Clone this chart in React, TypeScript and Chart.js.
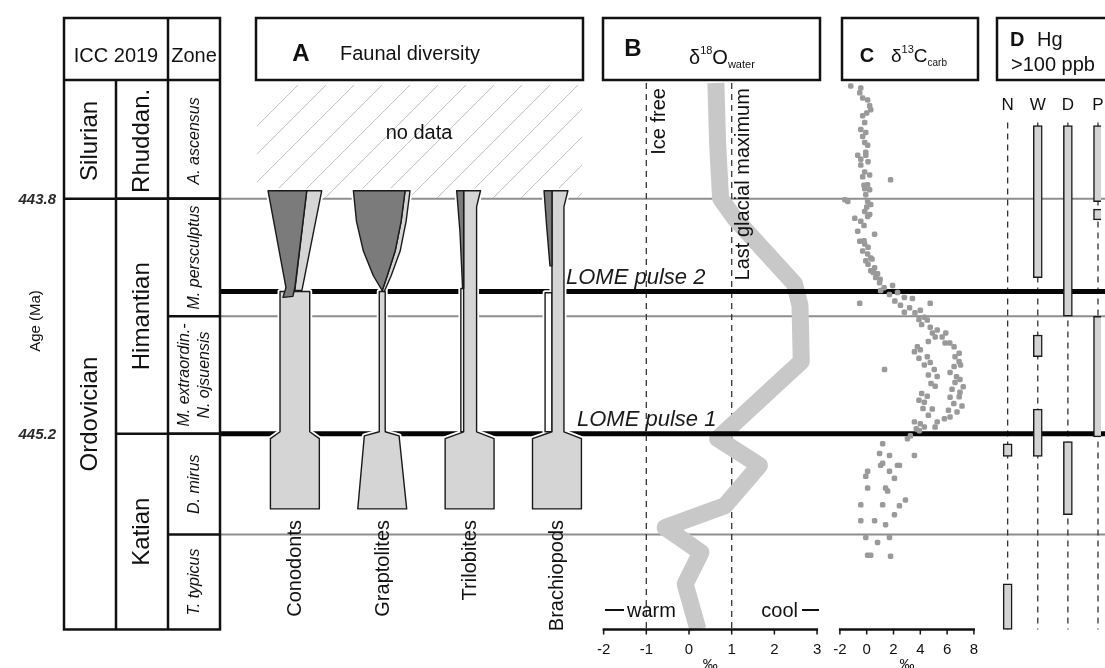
import React, { useEffect, useRef } from 'react';
import { Chart, registerables } from 'chart.js';

Chart.register(...registerables);

const W = 1105;
const H = 668;
const FONT = '"Liberation Sans", Arial, sans-serif';

// ---- Stratigraphic framework (ages in Ma) ----
const systemNames = ['Silurian', 'Ordovician'];
const systemBounds = [443.112, 443.8, 446.365];
const stageNames = ['Rhuddan.', 'Himantian', 'Katian'];
const stageBounds = [443.112, 443.8, 445.2, 446.365];
const zoneNames = [['A. ascensus'], ['M. persculptus'], ['M. extraordin.-', 'N. ojsuensis'], ['D. mirus'], ['T. typicus']];
const zoneBounds = [443.112, 443.8, 444.5, 445.2, 445.8, 446.365];
const ageLabels = [443.8, 445.2];
const pulseNames = ['LOME pulse 2', 'LOME pulse 1'];
const pulseAges = [444.353, 445.2];

// ---- A: faunal diversity spindles, [offset from taxon axis, age] ----
const taxonNames = ['Conodonts', 'Graptolites', 'Trilobites', 'Brachiopods'];
const taxonAxis = [0, 10, 20, 30];
const conodontShape = [
  { kind: 'range', pts: [[-1.7, 444.353], [-1.7, 445.188], [-2.8, 445.229], [-2.8, 445.647], [2.8, 445.647], [2.8, 445.229], [1.7, 445.188], [1.7, 444.353]] },
  { kind: 'range', pts: [[1.36, 443.753], [3.07, 443.753], [0.8, 444.347], [0.0, 444.347]] },
  { kind: 'lost', pts: [[-3.07, 443.753], [1.36, 443.753], [0.0, 444.329], [-0.23, 444.382], [-1.36, 444.388], [-1.02, 444.329]] },
];
const graptoliteShape = [
  { kind: 'range', pts: [[-0.34, 444.353], [-0.34, 445.188], [-2.05, 445.212], [-2.8, 445.647], [2.8, 445.647], [1.93, 445.212], [0.34, 445.188], [0.34, 444.353]] },
  { kind: 'range', pts: [[2.61, 443.753], [3.18, 443.753], [2.73, 443.935], [2.05, 444.112], [1.02, 444.259], [0.23, 444.353], [0.0, 444.347], [0.57, 444.259], [1.48, 444.112], [2.16, 443.935]] },
  { kind: 'lost', pts: [[-3.3, 443.753], [2.61, 443.753], [2.16, 443.935], [1.48, 444.112], [0.57, 444.259], [0.0, 444.347], [-1.02, 444.259], [-2.16, 444.112], [-2.95, 443.935]] },
];
const trilobiteShape = [
  { kind: 'gap', pts: [[-1.0, 444.335], [-1.0, 445.188], [-0.68, 445.188], [-0.68, 444.335]] },
  { kind: 'range', pts: [[-0.68, 443.753], [-0.68, 445.188], [-2.8, 445.229], [-2.8, 445.647], [2.8, 445.647], [2.8, 445.229], [0.8, 445.188], [0.8, 443.847], [1.25, 443.753]] },
  { kind: 'lost', pts: [[-1.48, 443.753], [-0.68, 443.753], [-0.68, 444.335], [-0.8, 444.335], [-1.1, 444.0]] },
];
const brachiopodShape = [
  { kind: 'gap', pts: [[-1.36, 444.36], [-1.36, 445.188], [-0.57, 445.188], [-0.57, 444.36]] },
  { kind: 'range', pts: [[-0.57, 443.753], [-0.57, 445.188], [-2.8, 445.229], [-2.8, 445.647], [2.8, 445.647], [2.8, 445.229], [0.8, 445.188], [0.8, 443.847], [1.25, 443.753]] },
  { kind: 'lost', pts: [[-1.48, 443.753], [-0.57, 443.753], [-0.57, 444.2], [-0.8, 444.2], [-1.2, 443.95]] },
];
const taxonShapes = [conodontShape, graptoliteShape, trilobiteShape, brachiopodShape];

// ---- B: δ18O of seawater (‰) ----
const d18oAge = [443.112, 443.47, 443.8, 443.917, 444.306, 444.435, 444.77, 445.229, 445.388, 445.629, 445.758, 445.906, 446.094, 446.365];
const d18oValue = [0.63, 0.67, 0.74, 1.07, 2.47, 2.6, 2.63, 0.67, 1.65, 0.84, -0.56, 0.28, -0.09, 0.21];
const d18oTicks = [-2, -1, 0, 1, 2, 3];
const d18oRefValues = [-1, 1];
const d18oRefNames = ['Ice free', 'Last glacial maximum'];

// ---- C: δ13C of carbonate (‰) ----
const d13cAge = [
  443.129, 443.141, 443.17, 443.212, 443.247, 443.27, 443.306, 443.347, 443.388, 443.406,
  443.465, 443.482, 443.523, 443.541, 443.565, 443.541, 443.6, 443.641, 443.659, 443.67,
  443.688, 443.717, 443.741, 443.747, 443.776, 443.806, 443.817, 443.817, 443.835, 443.876,
  443.894, 443.917, 443.935, 443.906, 444.012, 443.994, 444.053, 444.07, 444.112, 444.129,
  444.153, 444.17, 444.212, 444.229, 444.247, 444.27, 444.3, 444.347, 444.317, 444.359,
  444.388, 444.394, 444.423, 444.435, 444.423, 444.465, 444.476, 444.506, 444.523, 444.565,
  444.582, 444.623, 444.623, 444.659, 444.682, 444.682, 444.712, 444.741, 444.741, 444.77,
  444.776, 444.8, 444.817, 444.817, 444.835, 444.859, 444.876, 444.894, 444.917, 444.935,
  444.953, 444.976, 444.982, 445.012, 445.035, 445.053, 445.07, 445.1, 445.129, 445.129,
  445.159, 445.182, 445.212, 445.229, 445.259, 445.317, 445.329, 445.329, 445.388, 445.388,
  445.376, 445.388, 445.423, 445.423, 445.465, 445.453, 445.523, 445.523, 445.541, 445.594,
  445.623, 445.623, 445.629, 445.682, 445.717, 445.717, 445.741, 445.817, 445.847, 445.817,
  445.923, 445.923, 445.929,
  444.6, 444.65, 444.7, 444.75, 444.79, 444.85, 444.9, 444.96, 445.0, 445.05,
  445.09, 445.14, 445.17, 444.6, 444.66, 444.72, 444.79, 444.86, 444.92, 444.98,
  445.02, 445.06, 445.11, 445.16, 444.05, 444.09, 444.16, 444.19, 444.24, 444.28,
  444.33, 444.37, 444.41, 444.45, 444.48, 444.52, 444.55, 443.2, 443.29, 443.43,
  443.58, 443.72, 443.85, 443.96,
];
const d13cValue = [
  -1.19, -0.44, -0.52, 0.07, 0.22, 0.3, -0.3, -0.15, -0.44, -0.07,
  -0.15, 0.07, -0.07, -0.67, -0.44, -0.07, -0.44, -0.15, 0.22, -0.3,
  1.78, 0.07, -0.15, 0.22, -0.07, -1.63, -1.41, 0.07, 0.3, -0.15,
  0.22, -0.89, -0.44, 0.07, 0.59, -0.67, -0.52, -0.15, -0.3, 0.07,
  0.3, -0.07, 0.59, 0.3, 0.81, 0.67, 0.96, 1.04, 1.93, 2.3,
  2.81, 3.41, -0.52, 2.52, 4.74, 4.0, 2.81, 4.3, 4.52, 4.74,
  5.26, 5.63, 5.11, 5.85, 6.52, 3.78, 3.56, 4.52, 6.59, 6.89,
  4.74, 6.52, 1.33, 5.04, 6.22, 5.26, 6.96, 6.59, 5.11, 6.37,
  6.96, 4.52, 6.22, 4.3, 7.11, 4.89, 6.74, 6.22, 5.26, 3.56,
  4.3, 3.93, 3.26, 3.04, 1.19, 0.96, 1.7, 3.56, 1.04, 2.44,
  1.19, 2.3, 1.7, 0.07, 2.07, -0.07, 0.07, 1.41, 1.56, 2.89,
  -0.44, 1.19, 2.44, 2.07, -0.44, 0.59, 1.41, -0.07, 0.81, 1.7,
  0.07, 0.3, 1.78,
  4.9, 4.6, 4.0, 3.9, 4.3, 4.6, 4.8, 4.1, 3.9, 4.2,
  4.6, 4.0, 3.7, 5.9, 6.2, 6.9, 7.0, 6.7, 7.2, 6.9,
  6.5, 6.1, 5.8, 5.1, -0.2, 0.1, 0.4, 0.1, 0.5, 1.0,
  1.3, 1.7, 2.1, 3.2, 3.6, 3.9, 4.1, -0.3, 0.0, -0.3,
  0.1, -0.2, 0.0, -0.2,
];
const d13cTicks = [-2, 0, 2, 4, 6, 8];

// ---- D: Hg > 100 ppb intervals per section ----
const hgSites = ['N', 'W', 'D', 'P'];
const hgSite = [1, 1, 1, 2, 2, 3, 3, 3, 0, 0];
const hgTop = [443.365, 444.612, 445.053, 443.365, 445.247, 443.365, 443.862, 444.5, 445.259, 446.094];
const hgBase = [444.271, 444.741, 445.335, 444.5, 445.682, 443.818, 443.926, 445.218, 445.335, 446.365];
const hgTrackTop = 443.347;

type Ctx = CanvasRenderingContext2D;

function text(ctx: Ctx, s: string, x: number, y: number, size: number, o: any = {}) {
  ctx.save();
  ctx.font = `${o.style || 'normal'} ${o.weight || 'normal'} ${size}px ${FONT}`;
  ctx.fillStyle = o.color || '#111';
  ctx.textAlign = o.align || 'center';
  ctx.textBaseline = o.baseline || 'alphabetic';
  ctx.translate(x, y);
  if (o.rot) ctx.rotate(-Math.PI / 2);
  ctx.fillText(s, 0, 0);
  ctx.restore();
}

function hline(ctx: Ctx, x0: number, x1: number, y: number, w: number, c: string) {
  ctx.save();
  ctx.strokeStyle = c;
  ctx.lineWidth = w;
  ctx.beginPath();
  ctx.moveTo(x0, y);
  ctx.lineTo(x1, y);
  ctx.stroke();
  ctx.restore();
}

function vline(ctx: Ctx, x: number, y0: number, y1: number, w: number, c: string, dash: number[] = []) {
  ctx.save();
  ctx.strokeStyle = c;
  ctx.lineWidth = w;
  ctx.setLineDash(dash);
  ctx.beginPath();
  ctx.moveTo(x, y0);
  ctx.lineTo(x, y1);
  ctx.stroke();
  ctx.restore();
}

function box(ctx: Ctx, x0: number, y0: number, x1: number, y1: number) {
  ctx.save();
  ctx.strokeStyle = '#111';
  ctx.lineWidth = 2.5;
  ctx.strokeRect(x0, y0, x1 - x0, y1 - y0);
  ctx.restore();
}

// inline run of text pieces: [string, size, dy, weight]
function runs(ctx: Ctx, x: number, y: number, parts: any[][]) {
  let cx = x;
  for (const [s, size, dy, weight] of parts) {
    ctx.save();
    ctx.font = `normal ${weight || 'normal'} ${size}px ${FONT}`;
    ctx.fillStyle = '#111';
    ctx.textAlign = 'left';
    ctx.textBaseline = 'alphabetic';
    ctx.fillText(s, cx, y + dy);
    cx += ctx.measureText(s).width;
    ctx.restore();
  }
}

const FILLS: Record<string, string> = { range: '#d5d5d5', lost: '#7b7b7b', gap: '#ffffff' };

const TABLE = { left: 64, c1: 116, c2: 168, right: 220, top: 18, head: 80 };

const strataPlugin = {
  id: 'strata',
  beforeDatasetsDraw(chart: any) {
    const ctx: Ctx = chart.ctx;
    const y = chart.scales.y;
    const xB = chart.scales.xB;
    const xD = chart.scales.xD;
    const top = y.getPixelForValue(systemBounds[0]);
    const base = y.getPixelForValue(systemBounds[2]);

    // hatched "no data" interval in panel A
    ctx.save();
    ctx.beginPath();
    ctx.rect(257, top + 2, 325, y.getPixelForValue(443.8) - top - 3);
    ctx.clip();
    ctx.strokeStyle = '#bdbdbd';
    ctx.lineWidth = 1;
    for (let x0 = 180; x0 < 620; x0 += 28) {
      ctx.beginPath();
      ctx.moveTo(x0, top + 120);
      ctx.lineTo(x0 + 120, top);
      ctx.stroke();
    }
    ctx.restore();

    // zone boundaries across the panels
    [443.8, 444.5, 445.8].forEach((a) => hline(ctx, TABLE.right, W, y.getPixelForValue(a), 2, '#8e8e8e'));

    // reference lines in B
    d18oRefValues.forEach((v) => vline(ctx, xB.getPixelForValue(v), top, base, 1.3, '#333', [6, 5]));
    // section tracks in D
    hgSites.forEach((_, i) => vline(ctx, xD.getPixelForValue(i), y.getPixelForValue(hgTrackTop), base, 1.3, '#333', [6, 5]));
  },
  afterDatasetDraw(chart: any, args: any) {
    if (args.index !== 0) return;
    const ctx: Ctx = chart.ctx;
    const y = chart.scales.y;
    const xA = chart.scales.xA;
    pulseAges.forEach((a) => hline(ctx, TABLE.right, W, y.getPixelForValue(a), 5, '#050505'));

    const path = (i: number, pts: number[][]) => {
      ctx.beginPath();
      pts.forEach(([dx, a], k) => {
        const px = xA.getPixelForValue(taxonAxis[i] + dx);
        const py = y.getPixelForValue(a);
        if (k) ctx.lineTo(px, py);
        else ctx.moveTo(px, py);
      });
      ctx.closePath();
    };
    ctx.save();
    ctx.lineJoin = 'round';
    taxonShapes.forEach((shapes, i) =>
      shapes.forEach((s) => {
        path(i, s.pts);
        ctx.strokeStyle = '#fff';
        ctx.lineWidth = 5;
        ctx.stroke();
      })
    );
    taxonShapes.forEach((shapes, i) =>
      shapes.forEach((s) => {
        path(i, s.pts);
        ctx.fillStyle = FILLS[s.kind];
        ctx.fill();
        ctx.strokeStyle = '#1a1a1a';
        ctx.lineWidth = 1.4;
        ctx.stroke();
      })
    );
    ctx.restore();
  },
  afterDatasetsDraw(chart: any) {
    const ctx: Ctx = chart.ctx;
    const y = chart.scales.y;
    const xA = chart.scales.xA;
    const xB = chart.scales.xB;
    const xC = chart.scales.xC;
    const xD = chart.scales.xD;
    const T = TABLE;
    const top = y.getPixelForValue(systemBounds[0]);
    const base = y.getPixelForValue(systemBounds[2]);

    // ---- chronostratigraphic table ----
    box(ctx, T.left, T.top, T.right, base);
    hline(ctx, T.left, T.right, T.head, 2.5, '#111');
    vline(ctx, T.c1, T.head, base, 2.5, '#111');
    vline(ctx, T.c2, T.top, base, 2.5, '#111');
    systemBounds.slice(1, -1).forEach((a) => hline(ctx, T.left, T.right, y.getPixelForValue(a), 2.5, '#111'));
    stageBounds.slice(1, -1).forEach((a) => hline(ctx, T.c1, T.right, y.getPixelForValue(a), 2.5, '#111'));
    zoneBounds.slice(1, -1).forEach((a) => hline(ctx, T.c2, T.right, y.getPixelForValue(a), 2.5, '#111'));
    text(ctx, 'ICC 2019', (T.left + T.c2) / 2, 62, 20);
    text(ctx, 'Zone', (T.c2 + T.right) / 2, 62, 20);
    const mid = (b: number[], i: number) => (y.getPixelForValue(b[i]) + y.getPixelForValue(b[i + 1])) / 2;
    systemNames.forEach((s, i) => text(ctx, s, (T.left + T.c1) / 2, mid(systemBounds, i), 24, { rot: true, baseline: 'middle' }));
    stageNames.forEach((s, i) => text(ctx, s, (T.c1 + T.c2) / 2, mid(stageBounds, i), 24, { rot: true, baseline: 'middle' }));
    zoneNames.forEach((lines, i) => {
      const cx = (T.c2 + T.right) / 2 + 1;
      lines.forEach((s, k) => {
        const off = (k - (lines.length - 1) / 2) * 20;
        text(ctx, s, cx + off, mid(zoneBounds, i), 16, { rot: true, baseline: 'middle', style: 'italic' });
      });
    });
    ageLabels.forEach((a) => text(ctx, a.toFixed(1), 56, y.getPixelForValue(a) + 1, 15, { align: 'right', baseline: 'middle', style: 'italic', weight: 'bold', color: '#2a2a2a' }));
    text(ctx, 'Age (Ma)', 36, 321, 15, { rot: true, baseline: 'middle' });

    // ---- panel A ----
    box(ctx, 256, T.top, 583, T.head);
    text(ctx, 'A', 301, 61, 24, { weight: 'bold' });
    text(ctx, 'Faunal diversity', 340, 60, 20, { align: 'left' });
    text(ctx, 'no data', 419, 139, 20);
    taxonNames.forEach((s, i) => text(ctx, s, xA.getPixelForValue(taxonAxis[i]) + 1, 520, 20, { rot: true, align: 'right', baseline: 'middle' }));
    pulseNames.forEach((s, i) => text(ctx, s, i === 0 ? 566 : 577, y.getPixelForValue(pulseAges[i]) - 8, 22, { align: 'left', style: 'italic', color: '#1a1a1a' }));

    // ---- panel B ----
    box(ctx, 603, T.top, 820, T.head);
    text(ctx, 'B', 633, 56, 24, { weight: 'bold' });
    runs(ctx, 689, 64, [['δ', 20, 0], ['18', 11, -10], ['O', 20, 0], ['water', 11, 4]]);
    text(ctx, d18oRefNames[0], xB.getPixelForValue(d18oRefValues[0]) + 13, top + 5, 20, { rot: true, align: 'right', baseline: 'middle' });
    text(ctx, d18oRefNames[1], xB.getPixelForValue(d18oRefValues[1]) + 12, top + 5, 20, { rot: true, align: 'right', baseline: 'middle' });
    const axisY = base;
    const drawAxis = (sc: any, ticks: number[], unitX: number) => {
      hline(ctx, sc.getPixelForValue(ticks[0]) - 1, sc.getPixelForValue(ticks[ticks.length - 1]) + 1, axisY, 2.5, '#111');
      ticks.forEach((t) => {
        const px = sc.getPixelForValue(t);
        vline(ctx, px, axisY, axisY + 5, 1.5, '#111');
        text(ctx, String(t), px, axisY + 25, 15);
      });
      text(ctx, '‰', unitX, axisY + 40, 15);
    };
    drawAxis(xB, d18oTicks, (xB.getPixelForValue(-2) + xB.getPixelForValue(3)) / 2);
    hline(ctx, 605, 624, 610, 2, '#111');
    text(ctx, 'warm', 627, 617, 20, { align: 'left' });
    text(ctx, 'cool', 798, 617, 20, { align: 'right' });
    hline(ctx, 802, 819, 610, 2, '#111');

    // ---- panel C ----
    box(ctx, 842, T.top, 978, T.head);
    text(ctx, 'C', 867, 62, 20, { weight: 'bold' });
    runs(ctx, 891, 62, [['δ', 19, 0], ['13', 11, -9], ['C', 19, 0], ['carb', 10, 4]]);
    drawAxis(xC, d13cTicks, (xC.getPixelForValue(-2) + xC.getPixelForValue(8)) / 2);

    // ---- panel D ----
    box(ctx, 997, T.top, W + 20, T.head);
    text(ctx, 'D', 1010, 46, 20, { weight: 'bold', align: 'left' });
    text(ctx, 'Hg', 1037, 46, 20, { align: 'left' });
    text(ctx, '>100 ppb', 1011, 71, 20, { align: 'left' });
    hgSites.forEach((s, i) => text(ctx, s, xD.getPixelForValue(i), 110, 17));
  },
};

export default function App() {
  const ref = useRef<HTMLCanvasElement>(null);
  useEffect(() => {
    document.body.style.margin = '0';
    document.body.style.overflow = 'hidden';
    const canvas = ref.current;
    if (!canvas) return;
    const chart = new Chart(canvas, {
      type: 'scatter',
      data: {
        datasets: [
          {
            type: 'line',
            label: 'δ18O water',
            xAxisID: 'xB',
            yAxisID: 'y',
            order: 3,
            data: d18oAge.map((a, i) => ({ x: d18oValue[i], y: a })),
            borderColor: '#c8c8c8',
            borderWidth: 17,
            borderJoinStyle: 'round',
            borderCapStyle: 'butt',
            pointRadius: 0,
            tension: 0,
            fill: false,
          } as any,
          {
            type: 'scatter',
            label: 'δ13C carb',
            xAxisID: 'xC',
            yAxisID: 'y',
            order: 2,
            data: d13cAge.map((a, i) => ({ x: d13cValue[i], y: a })),
            backgroundColor: '#9a9a9a',
            borderWidth: 0,
            pointStyle: 'rectRounded',
            pointRadius: 3.2,
          } as any,
          {
            type: 'bar',
            label: 'Hg > 100 ppb',
            xAxisID: 'xD',
            yAxisID: 'y',
            order: 1,
            data: hgSite.map((s, i) => ({ x: s, y: [hgTop[i], hgBase[i]] })),
            backgroundColor: '#d3d3d3',
            borderColor: '#1a1a1a',
            borderWidth: 1.5,
            borderSkipped: false,
            barThickness: 9,
            grouped: false,
          } as any,
        ],
      },
      options: {
        responsive: false,
        maintainAspectRatio: false,
        animation: false,
        devicePixelRatio: 1,
        events: [],
        layout: { padding: 0 },
        plugins: { legend: { display: false }, tooltip: { enabled: false } },
        scales: {
          xB: { type: 'linear', axis: 'x', display: false, offset: false, bounds: 'data', min: -16.0465, max: 9.6512 },
          xA: { type: 'linear', axis: 'x', display: false, offset: false, bounds: 'data', min: -33.295, max: 92.273 },
          xC: { type: 'linear', axis: 'x', display: false, offset: false, bounds: 'data', min: -64.37, max: 17.482 },
          xD: { type: 'linear', axis: 'x', display: false, offset: false, bounds: 'data', min: -33.33, max: 3.1, grid: { offset: false } },
          y: { type: 'linear', axis: 'y', display: false, offset: false, bounds: 'data', reverse: true, beginAtZero: false, min: 442.641, max: 446.5706 },
        },
      } as any,
      plugins: [strataPlugin],
    });
    return () => chart.destroy();
  }, []);
  return (
    <div style={{ position: 'fixed', left: 0, top: 0, width: W, height: H, background: '#fff', overflow: 'hidden' }}>
      <canvas ref={ref} width={W} height={H} style={{ display: 'block', width: W, height: H }} />
    </div>
  );
}
